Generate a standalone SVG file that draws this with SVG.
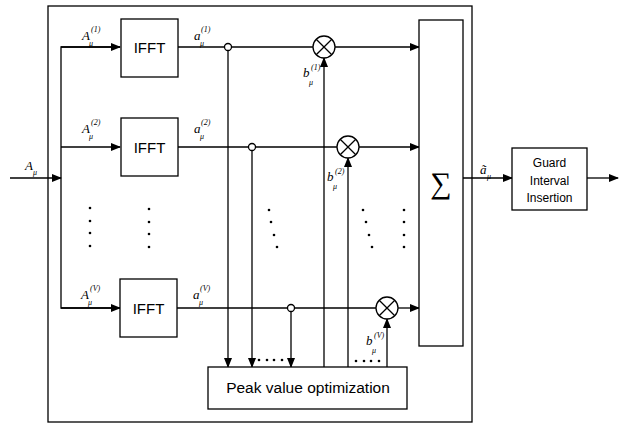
<svg xmlns="http://www.w3.org/2000/svg" width="627" height="424" viewBox="0 0 627 424">
<defs>
<marker id="ah" markerWidth="10" markerHeight="8" refX="9" refY="4" orient="auto" markerUnits="userSpaceOnUse">
<path d="M0,0 L10,4 L0,8 Z" fill="#000"/>
</marker>
<style>
.ln{stroke:#000;stroke-width:1.3;fill:none}
.bx{stroke:#000;stroke-width:1.3;fill:#fff}
.jc{stroke:#000;stroke-width:1.3;fill:#fff}
.m{font-family:"Liberation Serif",serif;font-style:italic;fill:#000}
.mb{font-size:13px;fill:#000}
.ms{font-size:8px;fill:#000}
.sans{font-family:"Liberation Sans",Arial,sans-serif;fill:#000}
.dot{fill:#000}
</style>
</defs>
<rect width="627" height="424" fill="#fff"/>
<g id="frame"><rect x="48" y="6" width="424" height="416" class="ln"/></g>
<g id="connectors">
<line x1="10" y1="178" x2="61" y2="178" class="ln" marker-end="url(#ah)"/>
<polyline points="120,47 61,47 61,308 120,308" class="ln"/>
<line x1="61" y1="47" x2="120" y2="47" class="ln" marker-end="url(#ah)"/>
<line x1="61" y1="147" x2="120" y2="147" class="ln" marker-end="url(#ah)"/>
<line x1="61" y1="308" x2="120" y2="308" class="ln" marker-end="url(#ah)"/>
<line x1="178" y1="47" x2="313" y2="47" class="ln"/>
<line x1="178" y1="147" x2="337" y2="147" class="ln"/>
<line x1="177" y1="308" x2="376" y2="308" class="ln"/>
<line x1="335" y1="47" x2="419" y2="47" class="ln" marker-end="url(#ah)"/>
<line x1="359" y1="147" x2="419" y2="147" class="ln" marker-end="url(#ah)"/>
<line x1="398" y1="308" x2="419" y2="308" class="ln" marker-end="url(#ah)"/>
<line x1="228" y1="50" x2="228" y2="367" class="ln" marker-end="url(#ah)"/>
<line x1="252" y1="150" x2="252" y2="367" class="ln" marker-end="url(#ah)"/>
<line x1="291" y1="311" x2="291" y2="367" class="ln" marker-end="url(#ah)"/>
<line x1="324" y1="367" x2="324" y2="58" class="ln" marker-end="url(#ah)"/>
<line x1="348" y1="367" x2="348" y2="158" class="ln" marker-end="url(#ah)"/>
<line x1="387" y1="367" x2="387" y2="319" class="ln" marker-end="url(#ah)"/>
<line x1="463" y1="178" x2="512" y2="178" class="ln" marker-end="url(#ah)"/>
<line x1="587" y1="178" x2="618" y2="178" class="ln" marker-end="url(#ah)"/>
</g>
<g id="junctions">
<circle cx="228" cy="47" r="3.5" class="jc"/>
<circle cx="252" cy="147" r="3.5" class="jc"/>
<circle cx="291" cy="308" r="3.5" class="jc"/>
</g>
<g id="mult1"><circle cx="324" cy="47" r="11" class="bx"/><path d="M316.2,39.2 L331.8,54.8 M331.8,39.2 L316.2,54.8" class="ln"/></g>
<g id="mult2"><circle cx="348" cy="147" r="11" class="bx"/><path d="M340.2,139.2 L355.8,154.8 M355.8,139.2 L340.2,154.8" class="ln"/></g>
<g id="multV"><circle cx="387" cy="308" r="11" class="bx"/><path d="M379.2,300.2 L394.8,315.8 M394.8,300.2 L379.2,315.8" class="ln"/></g>
<g id="ifft1"><rect x="121" y="19" width="57" height="58" class="bx"/><text x="149.5" y="53" class="sans" font-size="15" text-anchor="middle">IFFT</text></g>
<g id="ifft2"><rect x="121" y="118" width="57" height="58" class="bx"/><text x="149.5" y="153" class="sans" font-size="15" text-anchor="middle">IFFT</text></g>
<g id="ifftV"><rect x="120" y="279" width="57" height="58" class="bx"/><text x="148.5" y="314" class="sans" font-size="15" text-anchor="middle">IFFT</text></g>
<g id="sum"><rect x="419" y="20" width="44" height="326" class="bx"/><text x="441" y="193" font-family="Liberation Serif,serif" font-size="30" text-anchor="middle" fill="#000">∑</text></g>
<g id="pvo"><rect x="208" y="367" width="199" height="42" class="bx"/><text x="308" y="393" class="sans" font-size="15.5" text-anchor="middle">Peak value optimization</text></g>
<g id="guard"><rect x="512" y="148" width="75" height="62" class="bx"/>
<text class="sans" font-size="12" text-anchor="middle"><tspan x="549.5" y="167">Guard</tspan><tspan x="549.5" y="185">Interval</tspan><tspan x="549.5" y="202">Insertion</tspan></text></g>
<g id="labels" class="m">
<text x="25" y="170" class="mb">A</text><text x="33" y="175" class="ms">μ</text>
<text x="82" y="40" class="mb">A</text><text x="89" y="46" class="ms">μ</text><text x="91" y="32" class="ms">(1)</text>
<text x="82" y="133" class="mb">A</text><text x="89" y="139" class="ms">μ</text><text x="91" y="125" class="ms">(2)</text>
<text x="81" y="299" class="mb">A</text><text x="88" y="305" class="ms">μ</text><text x="90" y="291" class="ms">(V)</text>
<text x="194" y="40" class="mb">a</text><text x="200" y="46" class="ms">μ</text><text x="201" y="32" class="ms">(1)</text>
<text x="194" y="133" class="mb">a</text><text x="200" y="139" class="ms">μ</text><text x="201" y="125" class="ms">(2)</text>
<text x="193" y="299" class="mb">a</text><text x="199" y="305" class="ms">μ</text><text x="200" y="291" class="ms">(V)</text>
<text x="303" y="77" class="mb">b</text><text x="309" y="85" class="ms">μ</text><text x="311" y="70" class="ms">(1)</text>
<text x="327" y="181" class="mb">b</text><text x="333" y="189" class="ms">μ</text><text x="335" y="174" class="ms">(2)</text>
<text x="366" y="345" class="mb">b</text><text x="372" y="353" class="ms">μ</text><text x="374" y="338" class="ms">(V)</text>
<text x="480" y="174" class="mb">ã</text><text x="487" y="179" class="ms">μ</text>
</g>
<g id="dots" class="dot">
<circle cx="90" cy="208" r="1.3"/><circle cx="90" cy="221" r="1.3"/><circle cx="90" cy="233" r="1.3"/><circle cx="90" cy="246" r="1.3"/>
<circle cx="149" cy="209" r="1.3"/><circle cx="149" cy="222" r="1.3"/><circle cx="149" cy="234" r="1.3"/><circle cx="149" cy="247" r="1.3"/>
<circle cx="269" cy="210" r="1.3"/><circle cx="271" cy="222" r="1.3"/><circle cx="274" cy="235" r="1.3"/><circle cx="277" cy="247" r="1.3"/>
<circle cx="363" cy="210" r="1.3"/><circle cx="366" cy="222" r="1.3"/><circle cx="369" cy="235" r="1.3"/><circle cx="372" cy="247" r="1.3"/>
<circle cx="404" cy="210" r="1.3"/><circle cx="404" cy="222" r="1.3"/><circle cx="404" cy="235" r="1.3"/><circle cx="404" cy="247" r="1.3"/>
<circle cx="259" cy="360" r="1.3"/><circle cx="267" cy="360" r="1.3"/><circle cx="274" cy="360" r="1.3"/><circle cx="282" cy="360" r="1.3"/>
<circle cx="356" cy="361" r="1.3"/><circle cx="364" cy="361" r="1.3"/><circle cx="371" cy="361" r="1.3"/><circle cx="379" cy="361" r="1.3"/>
</g>
</svg>
